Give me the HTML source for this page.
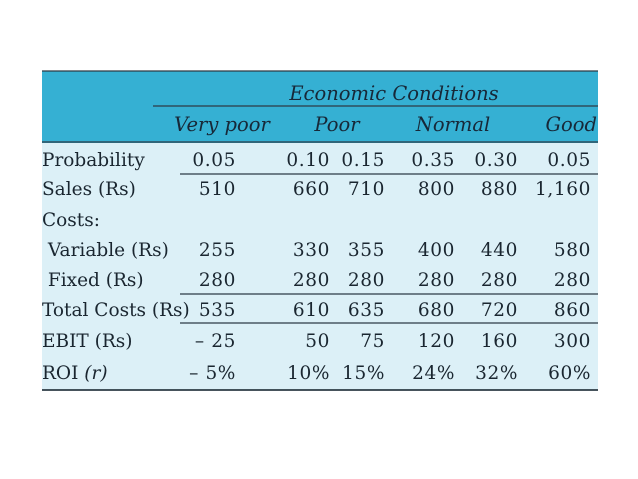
<!DOCTYPE html>
<html><head><meta charset="utf-8"><style>
body{margin:0;background:#fff;width:638px;height:479px;overflow:hidden}
svg{display:block}
text{font-family:"DejaVu Serif","Liberation Serif",serif;font-size:18.5px;fill:#1a2630}
.num{letter-spacing:0.6px}
.hd{font-style:italic;fill:#172838;font-size:19.5px}
</style></head><body>
<svg id="t" width="638" height="479" viewBox="0 0 638 479">
<rect x="42" y="71" width="556" height="72" fill="#35b0d3"/>
<rect x="42" y="143" width="556" height="247" fill="#dcf0f7"/>
<g stroke="#2d3b45" stroke-width="1.3">
<line x1="42" y1="71" x2="598" y2="71"/>
<line x1="153" y1="106" x2="598" y2="106"/>
<line x1="42" y1="142" x2="598" y2="142"/>
<line x1="180" y1="174" x2="598" y2="174"/>
<line x1="180" y1="294" x2="598" y2="294"/>
<line x1="180" y1="323" x2="598" y2="323"/>
<line x1="42" y1="390" x2="598" y2="390" stroke-width="1.8"/>
</g>
<text class="hd" x="394" y="100" text-anchor="middle">Economic Conditions</text>
<text class="hd" x="222" y="131" text-anchor="middle">Very poor</text>
<text class="hd" x="337" y="131" text-anchor="middle">Poor</text>
<text class="hd" x="453" y="131" text-anchor="middle">Normal</text>
<text class="hd" x="597" y="131" text-anchor="end">Good</text>
</svg>
<script>
const rowLabels=["Probability","Sales (Rs)","Costs:","\u00a0Variable (Rs)","\u00a0Fixed (Rs)","Total Costs (Rs)","EBIT (Rs)","ROI"];
const rowY=[166,195,226,256,286,316,347,379];
const colX=[236,330,385,455,518,591];
const probability=["0.05","0.10","0.15","0.35","0.30","0.05"];
const sales=["510","660","710","800","880","1,160"];
const variableCosts=["255","330","355","400","440","580"];
const fixedCosts=["280","280","280","280","280","280"];
const totalCosts=["535","610","635","680","720","860"];
const ebit=["\u2013 25","50","75","120","160","300"];
const roi=["\u2013 5%","10%","15%","24%","32%","60%"];
const rows=[probability,sales,null,variableCosts,fixedCosts,totalCosts,ebit,roi];
const svg=document.getElementById('t');const NS='http://www.w3.org/2000/svg';
rowLabels.forEach((l,i)=>{
 const t=document.createElementNS(NS,'text');
 
 
 t.setAttribute('x',42);t.setAttribute('y',rowY[i]);
 t.textContent=l;
 if(i===7){const s=document.createElementNS(NS,'tspan');s.setAttribute('font-style','italic');s.textContent=' (r)';t.appendChild(s);}
 svg.appendChild(t);
 const vals=rows[i];if(!vals)return;
 vals.forEach((v,j)=>{
  const c=document.createElementNS(NS,'text');
  
  
  c.setAttribute('class','num');c.setAttribute('x',colX[j]);c.setAttribute('y',rowY[i]);
  c.setAttribute('text-anchor','end');c.textContent=v;svg.appendChild(c);
 });
});
</script>
</body></html>
